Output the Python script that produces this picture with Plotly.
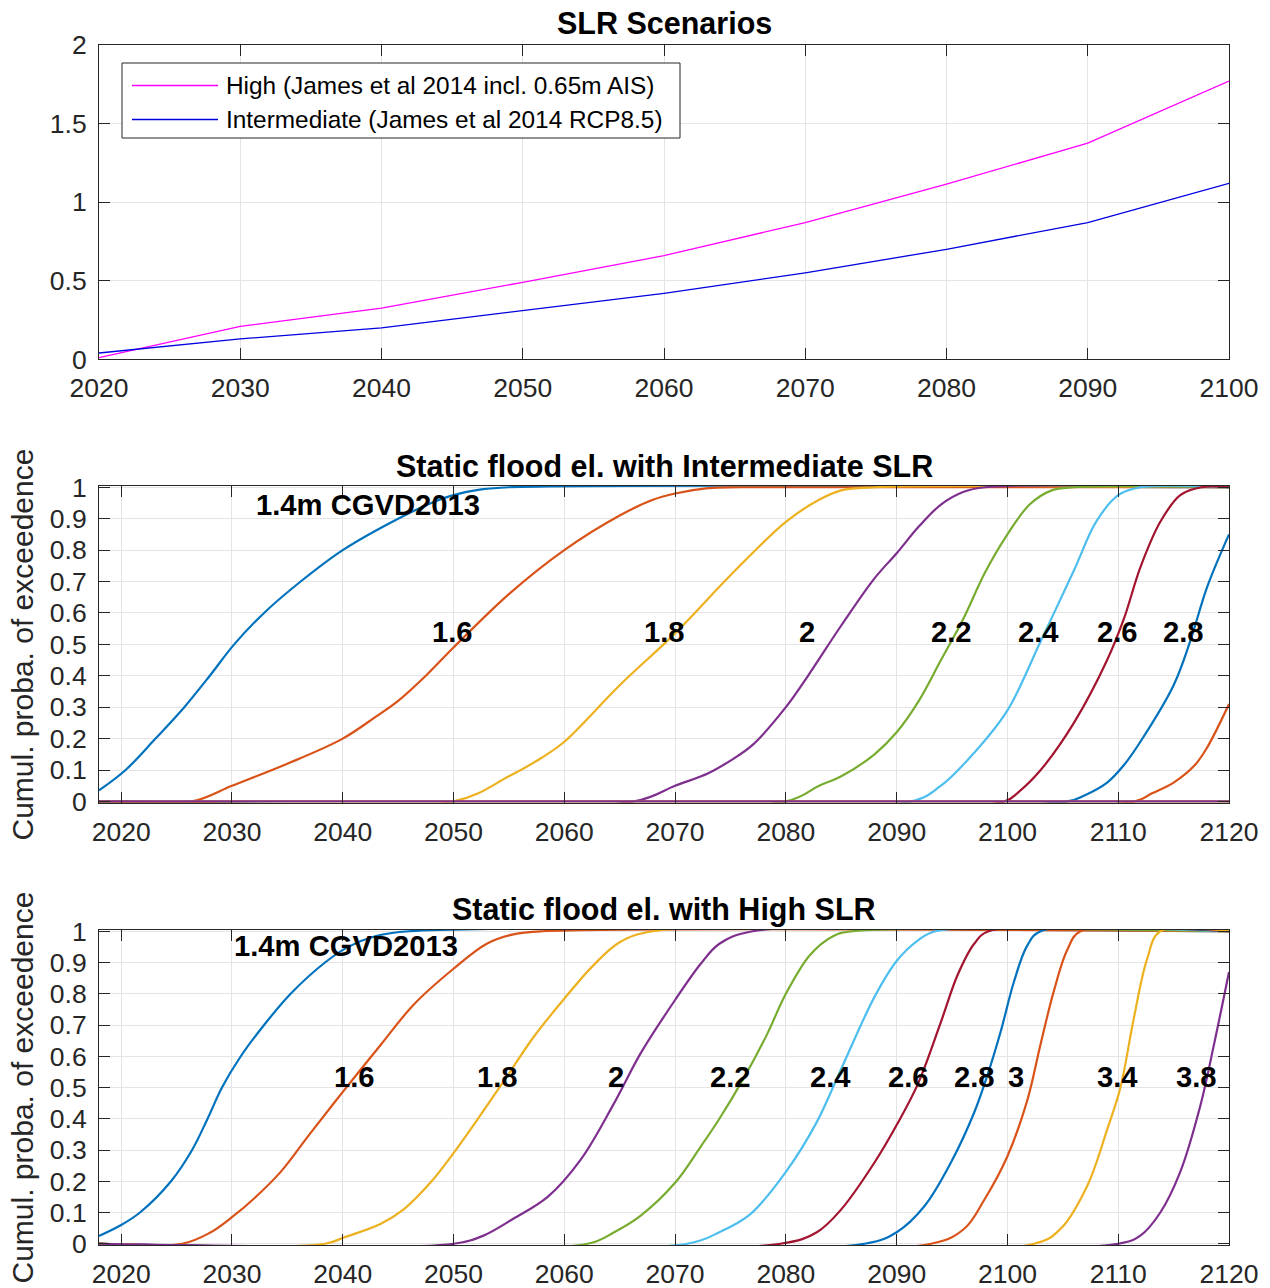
import plotly.graph_objects as go

W, H = 1270, 1288

# ---------------- data: SLR scenarios (top panel) ----------------
years_slr = [2020, 2030, 2040, 2050, 2060, 2070, 2080, 2090, 2100]
slr_high = [0.01, 0.21, 0.325, 0.49, 0.66, 0.87, 1.115, 1.375, 1.77]
slr_intermediate = [0.04, 0.13, 0.20, 0.31, 0.42, 0.55, 0.70, 0.87, 1.12]
legend_labels = ["High (James et al 2014 incl. 0.65m AIS)",
                 "Intermediate (James et al 2014 RCP8.5)"]

# ---------------- data: static flood elevation, Intermediate SLR ----------------
flood_levels = ["1.4", "1.6", "1.8", "2", "2.2", "2.4", "2.6", "2.8", "3", "3.4", "3.8"]

mid_14 = [(2018, 0.035), (2020.4, 0.1), (2023.1, 0.2), (2025.7, 0.3), (2028.0, 0.4), (2030.2, 0.5),
          (2032.9, 0.6), (2036.2, 0.7), (2040, 0.8), (2045.0, 0.9), (2048, 0.95), (2050, 0.975),
          (2052.5, 0.993), (2055, 1.0), (2120, 1.0)]
mid_16 = [(2018, 0), (2026.4, 0), (2030, 0.05), (2035, 0.12), (2040, 0.20), (2043, 0.27), (2045, 0.32),
          (2047.5, 0.40), (2050, 0.49), (2055, 0.66), (2060, 0.80), (2065, 0.91), (2068, 0.96),
          (2070, 0.98), (2073, 0.997), (2076, 1.0), (2120, 1.0)]
mid_18 = [(2018, 0), (2050, 0), (2055, 0.08), (2058, 0.14), (2060, 0.19), (2065, 0.37), (2070, 0.535),
          (2075, 0.72), (2080, 0.89), (2083, 0.96), (2085, 0.99), (2088, 1.0), (2120, 1.0)]
mid_20 = [(2018, 0), (2066.3, 0), (2070, 0.05), (2073, 0.09), (2075, 0.13), (2077, 0.18), (2080, 0.30),
          (2082, 0.40), (2085, 0.56), (2088, 0.71), (2090, 0.79), (2092, 0.875), (2094, 0.945),
          (2096, 0.985), (2098, 1.0), (2120, 1.0)]
mid_22 = [(2018, 0), (2080, 0), (2083, 0.05), (2085, 0.08), (2088, 0.15), (2090, 0.22), (2092, 0.32),
          (2094, 0.45), (2096, 0.58), (2098, 0.73), (2100, 0.85), (2102, 0.945), (2104, 0.99),
          (2106, 1.0), (2120, 1.0)]
mid_24 = [(2018, 0), (2091.3, 0), (2094, 0.05), (2097, 0.155), (2100, 0.29), (2103, 0.51),
          (2106, 0.735), (2108, 0.89), (2110, 0.975), (2112, 1.0), (2120, 1.0)]
mid_26 = [(2018, 0), (2099.7, 0), (2101, 0.03), (2103, 0.10), (2106, 0.25), (2109, 0.45),
          (2110.5, 0.58), (2112, 0.745), (2113.8, 0.89), (2115.6, 0.975), (2117.5, 1.0), (2120, 1.0)]
mid_28 = [(2018, 0), (2105.4, 0), (2107, 0.02), (2109, 0.06), (2110.5, 0.115), (2112, 0.19),
          (2115, 0.37), (2116.5, 0.51), (2118, 0.68), (2120, 0.85)]
mid_30 = [(2018, 0), (2111.5, 0), (2113, 0.025), (2115, 0.06), (2116.9, 0.115), (2118, 0.17), (2120, 0.31)]
mid_34 = [(2018, 0), (2120, 0)]
mid_38 = [(2018, 0), (2120, 0)]

mid_label_text = ["1.4m CGVD2013", "1.6", "1.8", "2", "2.2", "2.4", "2.6", "2.8"]
mid_label_year = [2032.0, 2047.9, 2067.0, 2081.0, 2092.9, 2100.8, 2107.9, 2113.9]
mid_label_p = [0.943, 0.54, 0.54, 0.54, 0.54, 0.54, 0.54, 0.54]

# ---------------- data: static flood elevation, High SLR ----------------
bot_14 = [(2018, 0.025), (2020, 0.06), (2021.7, 0.1), (2024.5, 0.2), (2026.4, 0.3), (2027.8, 0.4),
          (2029.1, 0.5), (2030.8, 0.6), (2032.9, 0.7), (2035.3, 0.8), (2038.4, 0.9), (2040.5, 0.95),
          (2043, 0.985), (2046, 1.0), (2120, 1.0)]
bot_16 = [(2018, 0), (2025.5, 0), (2028, 0.035), (2030, 0.085), (2032, 0.145), (2034.4, 0.23),
          (2037, 0.35), (2040.1, 0.49), (2043.4, 0.635), (2046.4, 0.765), (2050, 0.88), (2053, 0.96),
          (2055.4, 0.99), (2058, 1.0), (2120, 1.0)]
bot_18 = [(2018, 0), (2038.4, 0), (2040.1, 0.02), (2043.4, 0.063), (2045.5, 0.11), (2047.9, 0.195),
          (2050, 0.29), (2052.4, 0.41), (2054.8, 0.534), (2057.2, 0.66), (2059.9, 0.78),
          (2062.6, 0.89), (2065, 0.965), (2068, 1.0), (2120, 1.0)]
bot_20 = [(2018, 0), (2050, 0), (2052.7, 0.026), (2055.4, 0.08), (2058.5, 0.15), (2061.5, 0.27),
          (2064.5, 0.45), (2066.9, 0.61), (2070, 0.78), (2072.3, 0.895), (2074, 0.96), (2077, 1.0),
          (2120, 1.0)]
bot_22 = [(2018, 0), (2062.1, 0), (2064.5, 0.037), (2066.9, 0.09), (2070, 0.195), (2072.3, 0.31),
          (2074, 0.40), (2076.2, 0.53), (2078.3, 0.67), (2080, 0.80), (2082.2, 0.925), (2084.3, 0.985),
          (2086, 1.0), (2120, 1.0)]
bot_24 = [(2018, 0), (2071.1, 0), (2074, 0.037), (2076.8, 0.095), (2080, 0.23), (2082.8, 0.39),
          (2085, 0.56), (2088, 0.79), (2090, 0.905), (2091.9, 0.97), (2093.5, 1.0), (2120, 1.0)]
bot_26 = [(2018, 0), (2079.5, 0), (2082.8, 0.037), (2085, 0.11), (2088, 0.26), (2090, 0.38),
          (2091.9, 0.51), (2094, 0.71), (2095.5, 0.86), (2097, 0.96), (2098.3, 1.0), (2120, 1.0)]
bot_28 = [(2018, 0), (2087.1, 0), (2090, 0.037), (2092.5, 0.12), (2094.9, 0.26), (2097, 0.42),
          (2098.2, 0.54), (2099.4, 0.68), (2100.6, 0.84), (2101.8, 0.955), (2103, 1.0), (2120, 1.0)]
bot_30 = [(2018, 0), (2093.1, 0), (2096.1, 0.048), (2097.9, 0.14), (2100, 0.28), (2101.8, 0.46),
          (2103, 0.64), (2104.2, 0.81), (2105.4, 0.94), (2106.6, 1.0), (2120, 1.0)]
bot_34 = [(2018, 0), (2102.4, 0), (2104.8, 0.048), (2107.2, 0.185), (2109, 0.365), (2110.2, 0.50),
          (2111.4, 0.72), (2112.6, 0.91), (2113.8, 1.0), (2120, 1.0)]
bot_38 = [(2018, 0), (2110, 0), (2112, 0.026), (2113.8, 0.10), (2115.6, 0.23), (2117.4, 0.44),
          (2118.6, 0.63), (2120, 0.87)]

bot_label_text = ["1.4m CGVD2013", "1.6", "1.8", "2", "2.2", "2.4", "2.6", "2.8", "3", "3.4", "3.8"]
bot_label_year = [2030.0, 2039.0, 2051.9, 2063.8, 2073.0, 2082.0, 2089.0, 2095.0, 2099.9, 2107.9, 2115.0]
bot_label_p = [0.952, 0.534, 0.534, 0.534, 0.534, 0.534, 0.534, 0.534, 0.534, 0.534, 0.534]

slr_ticks = [2020, 2030, 2040, 2050, 2060, 2070, 2080, 2090, 2100]
cdf_ticks = [2020, 2030, 2040, 2050, 2060, 2070, 2080, 2090, 2100, 2110, 2120]

# ---------------- styling ----------------
FONT = "Liberation Sans, Arial, Helvetica, sans-serif"
AX = "#262626"
GRID = "#E4E4E4"
mcolors = ["#0072BD", "#D95319", "#EDB120", "#7E2F8E", "#77AC30", "#4DBEEE", "#A2142F"]

mid_curves = [mid_14, mid_16, mid_18, mid_20, mid_22, mid_24, mid_26, mid_28, mid_30, mid_34, mid_38]
bot_curves = [bot_14, bot_16, bot_18, bot_20, bot_22, bot_24, bot_26, bot_28, bot_30, bot_34, bot_38]


def pp(x, y):
    return x / W, 1 - y / H


fig = go.Figure()

fig.add_trace(go.Scatter(x=years_slr, y=slr_high, mode="lines", name=legend_labels[0],
                         line=dict(color="#FF00FF", width=1.3), xaxis="x", yaxis="y"))
fig.add_trace(go.Scatter(x=years_slr, y=slr_intermediate, mode="lines", name=legend_labels[1],
                         line=dict(color="#0000E0", width=1.3), xaxis="x", yaxis="y"))

for i, (curve, lev) in enumerate(zip(mid_curves, flood_levels)):
    fig.add_trace(go.Scatter(x=[c[0] for c in curve], y=[c[1] for c in curve], mode="lines",
                             name=lev + " m (Intermediate)",
                             line=dict(color=mcolors[i % 7], width=2.2, shape="spline", smoothing=1.0),
                             xaxis="x2", yaxis="y2"))
for i, (curve, lev) in enumerate(zip(bot_curves, flood_levels)):
    fig.add_trace(go.Scatter(x=[c[0] for c in curve], y=[c[1] for c in curve], mode="lines",
                             name=lev + " m (High)",
                             line=dict(color=mcolors[i % 7], width=2.2, shape="spline", smoothing=1.0),
                             xaxis="x3", yaxis="y3"))

xdom = [99 / W, 1229 / W]
top_dom = [1 - 359.3 / H, 1 - 45 / H]
mid_dom = [1 - 802.7 / H, 1 - 486 / H]
bot_dom = [1 - 1245 / H, 1 - 930 / H]

tickfont = dict(family=FONT, size=26.5, color=AX)


def xax(rng, ticks, anchor):
    return dict(domain=xdom, range=rng, tickvals=ticks, ticktext=[str(t) for t in ticks],
                ticks="inside", ticklen=11, tickcolor=AX, tickwidth=1, showline=True, linecolor=AX,
                linewidth=1, mirror="ticks", showgrid=True, gridcolor=GRID, gridwidth=1,
                zeroline=False, tickfont=tickfont, anchor=anchor, ticklabelstandoff=5,
                automargin=False)


def yax(rng, ticks, labels, dom, anchor):
    return dict(domain=dom, range=rng, tickvals=ticks, ticktext=labels,
                ticks="inside", ticklen=11, tickcolor=AX, tickwidth=1, showline=True, linecolor=AX,
                linewidth=1, mirror="ticks", showgrid=True, gridcolor=GRID, gridwidth=1,
                zeroline=False, tickfont=tickfont, anchor=anchor, ticklabelstandoff=6,
                automargin=False)


p_ticks = [0, 0.1, 0.2, 0.3, 0.4, 0.5, 0.6, 0.7, 0.8, 0.9, 1]
p_labels = ["0", "0.1", "0.2", "0.3", "0.4", "0.5", "0.6", "0.7", "0.8", "0.9", "1"]

fig.update_layout(
    template="none",
    width=W, height=H, margin=dict(l=0, r=0, t=0, b=0, pad=0, autoexpand=False),
    paper_bgcolor="white", plot_bgcolor="white", showlegend=False,
    font=dict(family=FONT, color=AX),
    xaxis=xax([2020, 2100], slr_ticks, "y"),
    yaxis=yax([0, 2], [0, 0.5, 1, 1.5, 2], ["0", "0.5", "1", "1.5", "2"], top_dom, "x"),
    xaxis2=xax([2018, 2120], cdf_ticks, "y2"),
    yaxis2=yax([-0.004, 1.004], p_ticks, p_labels, mid_dom, "x2"),
    xaxis3=xax([2018, 2120], cdf_ticks, "y3"),
    yaxis3=yax([-0.004, 1.004], p_ticks, p_labels, bot_dom, "x3"),
)

ann = []
shapes = []
# titles
for txt, yc in [("SLR Scenarios", 23), ("Static flood el. with Intermediate SLR", 466),
                ("Static flood el. with High SLR", 909)]:
    x, y = pp(664, yc)
    ann.append(dict(x=x, y=y, xref="paper", yref="paper", text="<b>%s</b>" % txt, showarrow=False,
                    xanchor="center", yanchor="middle", font=dict(family=FONT, size=30.5, color="black")))
# y-axis labels
for yc in [644.5, 1087.5]:
    x, y = pp(22, yc)
    ann.append(dict(x=x, y=y, xref="paper", yref="paper", text="Cumul. proba. of exceedence",
                    showarrow=False, textangle=-90, xanchor="center", yanchor="middle",
                    font=dict(family=FONT, size=30, color=AX)))
# curve labels
for t, xv, yv in zip(mid_label_text, mid_label_year, mid_label_p):
    ann.append(dict(x=xv, y=yv, xref="x2", yref="y2", text="<b>%s</b>" % t, showarrow=False,
                    xanchor="left", yanchor="middle", font=dict(family=FONT, size=29.2, color="black")))
for t, xv, yv in zip(bot_label_text, bot_label_year, bot_label_p):
    ann.append(dict(x=xv, y=yv, xref="x3", yref="y3", text="<b>%s</b>" % t, showarrow=False,
                    xanchor="left", yanchor="middle", font=dict(family=FONT, size=29.2, color="black")))

# legend box (top panel)
x0, y0 = pp(122, 63)
x1, y1 = pp(680, 138)
shapes.append(dict(type="rect", xref="paper", yref="paper", x0=x0, y0=y1, x1=x1, y1=y0,
                   line=dict(color=AX, width=1), fillcolor="white", layer="above"))
for lbl, col, yc in [(legend_labels[0], "#FF00FF", 85.5), (legend_labels[1], "#0000E0", 119.5)]:
    a, b = pp(132, yc)
    c, _ = pp(218, yc)
    shapes.append(dict(type="line", xref="paper", yref="paper", x0=a, y0=b, x1=c, y1=b,
                       line=dict(color=col, width=1.3), layer="above"))
    tx, ty = pp(224, yc)
    ann.append(dict(x=tx, y=ty, xref="paper", yref="paper", text=lbl, showarrow=False,
                    xanchor="left", yanchor="middle", font=dict(family=FONT, size=24.4, color="black")))

fig.update_layout(annotations=ann, shapes=shapes)

fig.write_html("out.html", config={"displayModeBar": False},
               post_script="document.body.style.margin='0px';")
